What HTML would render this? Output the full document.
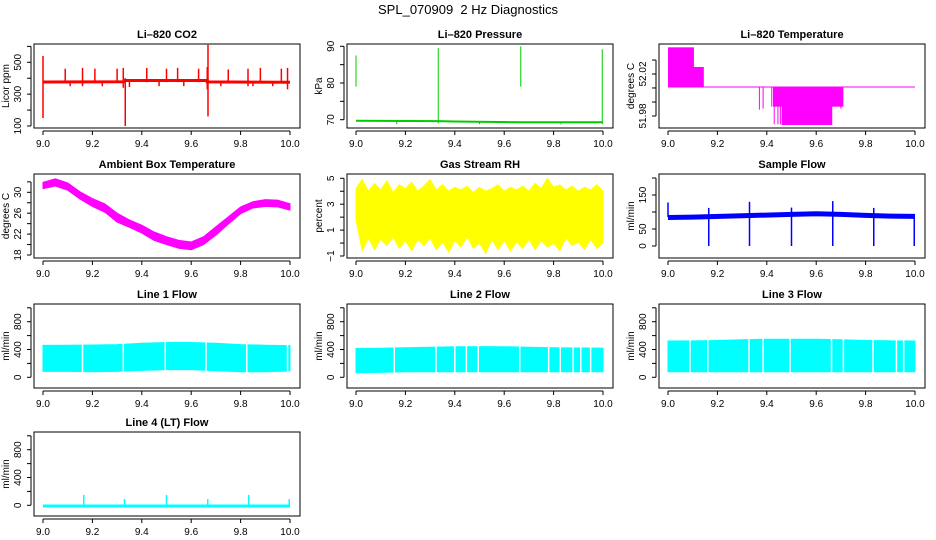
<!DOCTYPE html>
<html><head><meta charset="utf-8"><style>
html,body{margin:0;padding:0;background:#fff;}
svg{display:block;font-family:"Liberation Sans",Arial,sans-serif;}
</style></head><body>
<svg id="chart" width="936" height="540" viewBox="0 0 936 540" xmlns="http://www.w3.org/2000/svg">
<rect width="936" height="540" fill="#fff"/>
<text x="468" y="14" text-anchor="middle" font-size="13" xml:space="preserve">SPL_070909  2 Hz Diagnostics</text>
</svg>
<script>
// ---------- data ----------
const xTicks=[9.0,9.2,9.4,9.6,9.8,10.0];
const xTickLabels=["9.0","9.2","9.4","9.6","9.8","10.0"];
// CO2
const co2BaseX=[9.0,9.33,9.33,9.665,9.665,10.0];
const co2BaseY=[376,378,386,386,377,375];
const co2SpikeX=[9.0,9.09,9.16,9.21,9.30,9.325,9.333,9.42,9.50,9.545,9.63,9.665,9.668,9.75,9.83,9.88,9.965,9.99,9.11,9.24,9.35,9.47,9.57,9.72,9.85,9.93];
const co2SpikeLo=[150,375,350,375,375,340,100,375,375,375,375,330,160,375,350,375,375,330,350,350,345,350,350,350,350,350];
const co2SpikeHi=[540,460,465,460,460,465,400,465,460,465,460,470,610,455,460,465,460,465,380,385,390,390,385,380,380,380];
// Pressure
const presBaseX=[9.0,9.33,9.4,9.667,10.0];
const presBaseY=[69.7,69.6,69.5,69.3,69.3];
const presSpikeX=[9.0,9.333,9.667,9.997,9.165,9.5,9.83];
const presSpikeLo=[79,69,79,68.8,68.8,68.8,68.7];
const presSpikeHi=[87.5,89.5,90,89.2,69.5,69.6,69.3];
// Li-820 temperature
const tempBase=52.0076;
const tempBlockX0=[9.0,9.0,9.425,9.46];
const tempBlockX1=[9.105,9.145,9.71,9.665];
const tempBlockLo=[52.0076,52.0076,51.9889,51.9714];
const tempBlockHi=[52.0454,52.0267,52.0076,52.0076];
const tempLineX=[9.37,9.385,9.42,9.43,9.445,9.455,9.70];
const tempLineLo=[51.986,51.987,51.989,51.972,51.972,51.972,51.987];
// Ambient
const ambX=[9.0,9.05,9.1,9.15,9.2,9.25,9.3,9.35,9.4,9.45,9.5,9.55,9.6,9.65,9.7,9.75,9.8,9.85,9.9,9.95,10.0];
const ambHi=[31.9,32.6,31.8,30.1,28.8,27.8,26.0,24.7,23.7,22.4,21.5,20.8,20.5,21.5,23.4,25.3,27.2,28.2,28.6,28.5,27.8];
const ambLo=[30.7,31.2,30.4,28.7,27.3,26.2,24.3,23.3,22.2,20.8,20.0,19.3,19.0,20.0,21.8,23.9,25.9,27.0,27.3,27.2,26.6];
// RH
const rhX=[];for(let i=0;i<41;i++)rhX.push(9+i*0.025);
const rhHi=[4.2,4.9,4.0,4.6,4.1,4.8,3.9,4.5,4.2,4.7,4.0,4.4,4.9,4.1,4.5,4.0,4.3,4.1,4.4,3.9,4.3,4.0,4.2,4.5,4.0,4.3,4.1,4.4,4.0,4.6,4.2,5.0,4.3,4.5,4.1,4.4,4.0,4.3,4.1,4.5,4.0];
const rhLo=[1.8,-0.6,0.4,-0.5,0.3,-0.2,0.5,-0.4,0.2,-0.6,0.3,-0.2,0.4,-0.5,0.1,-0.7,0.2,-0.3,0.5,-0.4,0.0,-0.8,0.3,-0.5,0.2,-0.6,0.1,-0.4,0.3,-0.5,0.2,-0.3,0.0,-0.6,0.4,-0.2,0.1,-0.5,0.3,-0.4,0.0];
// Sample flow
const sfBaseX=[9.0,9.1,9.3,9.5,9.6,9.7,9.8,9.9,10.0];
const sfBaseY=[84,85,89,93,95,93,90,88,87];
const sfSpikeX=[9.0,9.165,9.33,9.5,9.667,9.833,9.997];
const sfSpikeLo=[85,0,0,0,0,0,0];
const sfSpikeHi=[128,112,130,113,132,112,88];
// Line flows
const lfX=[9.0,9.1,9.2,9.3,9.4,9.5,9.6,9.7,9.8,9.9,10.0];
const l1Hi=[460,462,465,470,490,500,500,490,470,462,455];
const l1Lo=[85,85,80,85,100,110,110,95,80,80,90];
const l1Gaps=[9.16,9.325,9.495,9.66,9.825,9.99];
const l2Hi=[414,418,425,432,440,442,440,432,425,422,420];
const l2Lo=[65,70,80,80,80,80,80,80,80,80,80];
const l2Gaps=[9.155,9.324,9.40,9.447,9.495,9.663,9.78,9.827,9.879,9.91,9.95];
const l3Hi=[522,525,530,540,548,548,548,540,530,525,522];
const l3Lo=[80,80,80,80,80,80,80,80,80,80,80];
const l3Gaps=[9.089,9.161,9.328,9.385,9.494,9.662,9.710,9.830,9.925,9.954];
// Line 4
const l4BaseX=[9.0,10.0];
const l4BaseY=[-10,-10];
const l4SpikeX=[9.165,9.33,9.5,9.667,9.833,9.997];
const l4SpikeHi=[150,90,150,90,150,90];
// ---------- rendering ----------
const svg=document.getElementById('chart');
const NS='http://www.w3.org/2000/svg';
const colL=[34,347,659], rowT=[44,174,304,432], BW=266, BH=84;
function mk(tag,attrs,parent){const e=document.createElementNS(NS,tag);for(const k in attrs)e.setAttribute(k,attrs[k]);(parent||svg).appendChild(e);return e;}
function panel(name,title,col,row,ytitle,v1,p1,v2,p2,yticks,ylabels){
  const L=colL[col],T=rowT[row];
  const g=mk('g',{});
  
  
  const xs=v=>L+9+(v-9)*247;
  const ys=v=>T+p1+(v-v1)*(p2-p1)/(v2-v1);
  const plot=mk('g',{},g);
  
  
  const box=mk('rect',{x:L,y:T,width:BW,height:BH,fill:'none',stroke:'#000','stroke-width':1},g);
  
  
  const t=mk('text',{x:L+BW/2,y:T-6,'text-anchor':'middle','font-size':11,'font-weight':'bold'},g);
  t.textContent=title;
  
  
  const xa=mk('g',{},g);
  
  
  mk('line',{x1:xs(xTicks[0]),x2:xs(xTicks[xTicks.length-1]),y1:T+BH+3,y2:T+BH+3,stroke:'#000'},xa);
  xTicks.forEach((v,i)=>{
    mk('line',{x1:xs(v),x2:xs(v),y1:T+BH+3,y2:T+BH+7,stroke:'#000'},xa);
    const tl=mk('text',{x:xs(v),y:T+BH+19,'text-anchor':'middle','font-size':10},xa);
    tl.textContent=xTickLabels[i];
    
    
  });
  const ya=mk('g',{},g);
  
  
  mk('line',{x1:L-3,x2:L-3,y1:ys(yticks[0]),y2:ys(yticks[yticks.length-1]),stroke:'#000'},ya);
  yticks.forEach((v,i)=>{
    mk('line',{x1:L-3,x2:L-7,y1:ys(v),y2:ys(v),stroke:'#000'},ya);
    if(ylabels[i]){
      const tl=mk('text',{transform:`translate(${L-13},${ys(v)}) rotate(-90)`,'text-anchor':'middle','font-size':10},ya);
      tl.textContent=ylabels[i];
      
      
    }
  });
  const yt=mk('text',{transform:`translate(${L-25},${T+BH/2}) rotate(-90)`,'text-anchor':'middle','font-size':10},g);
  yt.textContent=ytitle;
  
  
  return {xs,ys,plot};
}
function pl(p,X,Y,color,w){mk('polyline',{points:X.map((x,i)=>p.xs(x)+','+p.ys(Y[i])).join(' '),fill:'none',stroke:color,'stroke-width':w},p.plot);}
function vl(p,x,lo,hi,color,w){mk('line',{x1:p.xs(x),x2:p.xs(x),y1:p.ys(lo),y2:p.ys(hi),stroke:color,'stroke-width':w},p.plot);}
function band(p,X,Lo,Hi,color){const pts=X.map((x,i)=>p.xs(x)+','+p.ys(Hi[i])).concat(X.map((x,i)=>p.xs(x)+','+p.ys(Lo[i])).reverse());mk('polygon',{points:pts.join(' '),fill:color,stroke:color,'stroke-width':1},p.plot);}

let p=panel('co2','Li\u2013820 CO2',0,0,'Licor ppm',500,18.3,100,82,[100,200,300,400,500,600],['100','','300','','500','']);
pl(p,co2BaseX,co2BaseY,'#f00',3);
co2SpikeX.forEach((x,i)=>vl(p,x,co2SpikeLo[i],co2SpikeHi[i],'#f00',1.5));
p=panel('pressure','Li\u2013820 Pressure',1,0,'kPa',90,2.3,70,75.7,[70,75,80,85,90],['70','','80','','90']);
pl(p,presBaseX,presBaseY,'#0c0',2);
presSpikeX.forEach((x,i)=>vl(p,x,presSpikeLo[i],presSpikeHi[i],'#0c0',1));
p=panel('li820-temp','Li\u2013820 Temperature',2,0,'degrees C',52.02,30,51.98,72,[51.98,51.9933,52.0067,52.02,52.0333],['51.98','','','52.02','']);
pl(p,[9,10],[tempBase,tempBase],'#f0f',1);
tempBlockX0.forEach((x,i)=>mk('rect',{x:p.xs(x),y:p.ys(tempBlockHi[i]),width:p.xs(tempBlockX1[i])-p.xs(x),height:p.ys(tempBlockLo[i])-p.ys(tempBlockHi[i]),fill:'#f0f'},p.plot));
tempLineX.forEach((x,i)=>vl(p,x,tempLineLo[i],tempBase,'#f0f',1));
p=panel('ambient','Ambient Box Temperature',0,1,'degrees C',30,18.3,18,81,[18,20,22,24,26,28,30,32],['18','','22','','26','','30','']);
band(p,ambX,ambLo,ambHi,'#f0f');
p=panel('rh','Gas Stream RH',1,1,'percent',5,4.3,-1,82,[-1,0,1,2,3,4,5],['\u22121','','1','','3','','5']);
band(p,rhX,rhLo,rhHi,'#ff0');
p=panel('sample-flow','Sample Flow',2,1,'ml/min',150,21,0,72,[0,50,100,150,200],['0','50','','150','']);
pl(p,sfBaseX,sfBaseY,'#00f',5);
sfSpikeX.forEach((x,i)=>vl(p,x,sfSpikeLo[i],sfSpikeHi[i],'#00f',1.5));
const lt=[0,200,400,600,800,1000], ll=['0','','400','','800',''];
function flow(name,title,col,row,Hi,Lo,Gaps){
  const q=panel(name,title,col,row,'ml/min',800,17.7,0,73.3,lt,ll);
  band(q,lfX,Lo,Hi,'#0ff');
  Gaps.forEach(x=>vl(q,x,0,600,'#fff',1.5));
}
flow('line1-flow','Line 1 Flow',0,2,l1Hi,l1Lo,l1Gaps);
flow('line2-flow','Line 2 Flow',1,2,l2Hi,l2Lo,l2Gaps);
flow('line3-flow','Line 3 Flow',2,2,l3Hi,l3Lo,l3Gaps);
p=panel('line4-flow','Line 4 (LT) Flow',0,3,'ml/min',800,17.7,0,73.3,lt,ll);
pl(p,l4BaseX,l4BaseY,'#0ff',3);
l4SpikeX.forEach((x,i)=>vl(p,x,-10,l4SpikeHi[i],'#0ff',1.5));
</script>
</body></html>
